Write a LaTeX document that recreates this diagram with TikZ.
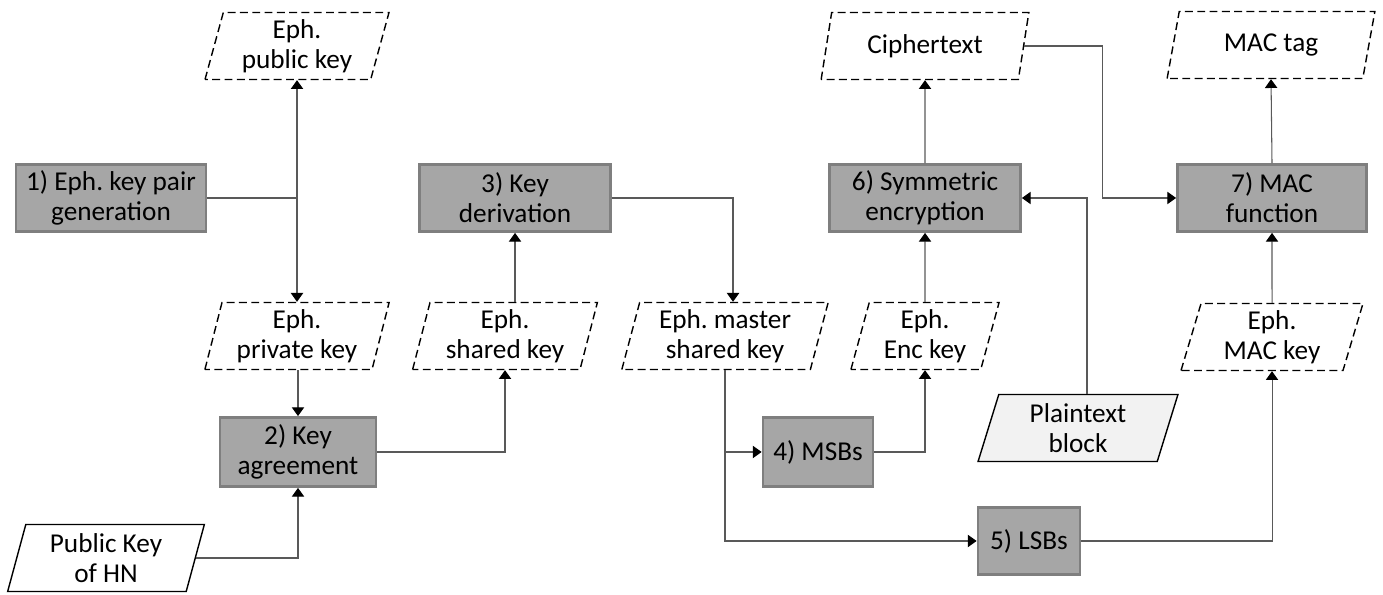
\documentclass[tikz,border=0pt]{standalone}
\usepackage{fontspec}
\setmainfont{Carlito}
\usepackage{tikz}
\usetikzlibrary{shapes.geometric,arrows.meta}

\definecolor{boxfill}{HTML}{A6A6A6}
\definecolor{boxedge}{HTML}{7F7F7F}
\definecolor{plainfill}{HTML}{F2F2F2}
\frenchspacing

\begin{document}
\begin{tikzpicture}[
  font=\fontsize{15.5}{17}\selectfont,
  proc/.style={draw=boxedge, fill=boxfill, line width=1.6pt, minimum height=1.34cm, align=center, inner sep=1pt},
  data/.style={trapezium, trapezium left angle=76, trapezium right angle=104, trapezium stretches=true,
    draw, dash pattern=on 4.5pt off 2.5pt, line width=0.8pt, minimum height=1.34cm, align=center, inner sep=1pt},
  link/.style={draw=black!65, line width=0.6pt},
  arr/.style={link, -{Triangle[width=7pt,length=5pt,color=black]}}
]
\useasboundingbox (0,0) rectangle (27.66,11.9);

\node[proc, minimum width=3.8cm] (keygen) at (2.22,7.94) {1) Eph. key pair\\generation};
\node[data, minimum width=3.7cm] (pubkey) at (5.94,10.98) {Eph.\\public key};
\node[data, minimum width=3.7cm] (privkey) at (5.94,5.18) {Eph.\\private key};
\node[proc, minimum width=3.12cm, minimum height=1.38cm] (agree) at (5.96,2.86) {2) Key\\agreement};
\node[data, solid, minimum width=3.96cm] (hnkey) at (2.12,0.74) {Public Key\\of HN};

\node[data, minimum width=3.7cm] (sharedkey) at (10.10,5.18) {Eph.\\shared key};
\node[proc, minimum width=3.82cm] (derive) at (10.30,7.94) {3) Key\\derivation};
\node[data, minimum width=4.14cm] (masterkey) at (14.50,5.18) {Eph. master\\shared key};
\node[proc, minimum width=2.2cm, minimum height=1.38cm] (msb) at (16.36,2.86) {4) MSBs};
\node[proc, minimum width=2.04cm] (lsb) at (20.58,1.08) {5) LSBs};

\node[data, minimum width=2.98cm] (enckey) at (18.50,5.18) {Eph.\\Enc key};
\node[data, solid, fill=plainfill, minimum width=4.0cm] (plain) at (21.56,3.34) {Plaintext\\block};
\node[proc, minimum width=3.82cm] (symenc) at (18.50,7.94) {6) Symmetric\\encryption};
\node[data, minimum width=4.18cm] (cipher) at (18.50,10.98) {Ciphertext};
\node[proc, minimum width=3.78cm] (mac) at (25.44,7.94) {7) MAC\\function};
\node[data, minimum width=4.18cm] (mactag) at (25.42,11.0) {MAC tag};
\node[data, minimum width=3.66cm] (mackey) at (25.44,5.16) {Eph.\\MAC key};

\coordinate (fork) at (keygen.east -| pubkey);
\draw[link] (keygen.east) -- (fork);
\draw[arr] (fork) -- (fork |- pubkey.south);
\draw[arr] (fork) -- (fork |- privkey.north);
\draw[arr] (agree.north |- privkey.south) -- (agree.north);
\draw[arr] (hnkey.east) -| (agree.south);
\draw[arr] (agree.east) -| (sharedkey.south);
\draw[arr] (derive.south |- sharedkey.north) -- (derive.south);
\draw[arr] (derive.east) -| ([xshift=0.16cm]masterkey.north);
\draw[arr] (masterkey.south) |- (msb.west);
\draw[arr] (masterkey.south) |- (lsb.west);
\draw[arr] (msb.east) -| (enckey.south);
\draw[arr] (enckey.north) -- (symenc.south);
\draw[arr] (symenc.north) -- (cipher.south);
\draw[arr] (cipher.east) -- ++(1.56,0) |- (mac.west);
\draw[arr] ([xshift=0.18cm]plain.north) |- (symenc.east);
\draw[arr] (lsb.east) -| (mackey.south);
\draw[arr] (mackey.north) -- (mac.south);
\draw[arr] (mac.north) -- (mactag.south);

\end{tikzpicture}
\end{document}
